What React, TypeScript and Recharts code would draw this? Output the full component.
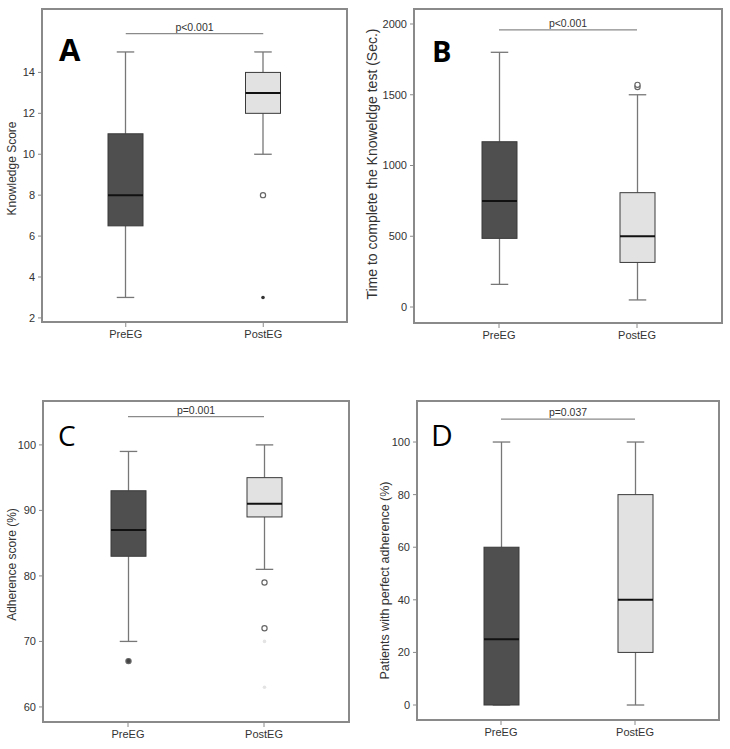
import React from 'react';
import {
  ComposedChart,
  Bar,
  XAxis,
  YAxis,
  ReferenceLine,
} from 'recharts';

const categories = ['PreEG', 'PostEG'];
const boxFills = ['#4f4f4f', '#e2e2e2'];
const outlierFills = ['#444444', '#ffffff'];

// A - Knowledge Score
const knowledgeMin = [3, 10];
const knowledgeQ1 = [6.5, 12];
const knowledgeMedian = [8, 13];
const knowledgeQ3 = [11, 14];
const knowledgeMax = [15, 15];
const knowledgeOutliers = [[], [8]];
const knowledgeExtremes = [[], [3]];
const knowledgeFaint = [[], []];
const knowledgeTicks = [2, 4, 6, 8, 10, 12, 14];

// B - time to complete the test (sec)
const timeMin = [160, 50];
const timeQ1 = [485, 315];
const timeMedian = [750, 500];
const timeQ3 = [1168, 808];
const timeMax = [1800, 1500];
const timeOutliers = [[], [1555, 1570]];
const timeExtremes = [[], []];
const timeFaint = [[], []];
const timeTicks = [0, 500, 1000, 1500, 2000];

// C - adherence score
const adherenceMin = [70, 81];
const adherenceQ1 = [83, 89];
const adherenceMedian = [87, 91];
const adherenceQ3 = [93, 95];
const adherenceMax = [99, 100];
const adherenceOutliers = [[67], [79, 72]];
const adherenceExtremes = [[], []];
const adherenceFaint = [[], [70, 63]];
const adherenceTicks = [60, 70, 80, 90, 100];

// D - patients with perfect adherence
const perfectMin = [0, 0];
const perfectQ1 = [0, 20];
const perfectMedian = [25, 40];
const perfectQ3 = [60, 80];
const perfectMax = [100, 100];
const perfectOutliers = [[], []];
const perfectExtremes = [[], []];
const perfectFaint = [[], []];
const perfectTicks = [0, 20, 40, 60, 80, 100];

const buildRows = (
  min: number[],
  q1: number[],
  median: number[],
  q3: number[],
  max: number[],
  outliers: number[][],
  extremes: number[][],
  faint: number[][]
) =>
  categories.map((name, i) => ({
    name,
    low: min[i],
    q1: q1[i],
    median: median[i],
    q3: q3[i],
    high: max[i],
    outliers: outliers[i],
    extremes: extremes[i],
    faint: faint[i],
    fill: boxFills[i],
    outlierFill: outlierFills[i],
  }));

const BoxShape = (props: any) => {
  const { x, y, width, height, payload } = props;
  const { low, q1, median, q3, high } = payload;
  // linear map using the bar's own pixel range (low..high)
  const py = (v: number) => y + (height * (high - v)) / (high - low);
  const cx = x + width / 2;
  const cap = width * 0.25;
  const whisker = '#777';
  return (
    <g>
      <line x1={cx} x2={cx} y1={py(high)} y2={py(q3)} stroke={whisker} strokeWidth={1.3} />
      <line x1={cx} x2={cx} y1={py(q1)} y2={py(low)} stroke={whisker} strokeWidth={1.3} />
      <line x1={cx - cap} x2={cx + cap} y1={py(high)} y2={py(high)} stroke={whisker} strokeWidth={1.3} />
      <line x1={cx - cap} x2={cx + cap} y1={py(low)} y2={py(low)} stroke={whisker} strokeWidth={1.3} />
      <rect
        x={x}
        y={py(q3)}
        width={width}
        height={Math.max(py(q1) - py(q3), 0.5)}
        fill={payload.fill}
        stroke="#3a3a3a"
        strokeWidth={1}
      />
      <line x1={x} x2={x + width} y1={py(median)} y2={py(median)} stroke="#111" strokeWidth={2} />
      {payload.outliers.map((v: number, i: number) => (
        <circle key={'o' + i} cx={cx} cy={py(v)} r={2.6} fill={payload.outlierFill} stroke="#666" strokeWidth={1.2} />
      ))}
      {payload.extremes.map((v: number, i: number) => (
        <circle key={'e' + i} cx={cx} cy={py(v)} r={1.8} fill="#333" />
      ))}
      {payload.faint.map((v: number, i: number) => (
        <circle key={'f' + i} cx={cx} cy={py(v)} r={1.8} fill="#e4e4e4" />
      ))}
    </g>
  );
};

const yLabelContent = (text: string, fontSize: number, shift: number) => (p: any) => {
  const vb = p.viewBox;
  const lx = vb.x + 5;
  const ly = vb.y + vb.height / 2 + shift;
  return (
    <text
      x={lx}
      y={ly}
      transform={`rotate(-90, ${lx}, ${ly})`}
      textAnchor="middle"
      dominantBaseline="central"
      fontSize={fontSize}
      fill="#333"
    >
      {text}
    </text>
  );
};

interface PanelProps {
  left: number;
  top: number;
  width: number;
  height: number;
  margin: { top: number; right: number; bottom: number; left: number };
  yWidth: number;
  xHeight: number;
  xPad: number;
  rows: any[];
  domain: [number, number];
  ticks: number[];
  yLabel: string;
  yLabelSize: number;
  yLabelShift: number;
  pText: string;
  pY: number;
  letter: string;
  letterX: number;
  letterY: number;
  letterSize: number;
  letterWeight: number;
}

const frame = '#8a8a8a';
const tickStyle = { fontSize: 11, fill: '#333' };

const Panel = (p: PanelProps) => {
  // plot frame drawn around the chart's plot area
  const fx = p.margin.left + p.yWidth;
  const fy = p.margin.top;
  const fw = p.width - p.margin.right - fx;
  const fh = p.height - p.margin.bottom - p.xHeight - fy;
  return (
    <div style={{ position: 'absolute', left: p.left, top: p.top, width: p.width, height: p.height }}>
      <ComposedChart width={p.width} height={p.height} data={p.rows} margin={p.margin}>
        <XAxis
          dataKey="name"
          height={p.xHeight}
          padding={{ left: p.xPad, right: p.xPad }}
          tick={tickStyle}
          tickSize={5}
          tickMargin={3}
          axisLine={false}
          tickLine={{ stroke: frame }}
        />
        <YAxis
          type="number"
          domain={p.domain}
          ticks={p.ticks}
          width={p.yWidth}
          allowDataOverflow
          tick={tickStyle}
          tickSize={4}
          tickMargin={3}
          axisLine={false}
          tickLine={{ stroke: frame }}
          label={{ content: yLabelContent(p.yLabel, p.yLabelSize, p.yLabelShift) }}
        />
        <ReferenceLine
          segment={[
            { x: categories[0], y: p.pY },
            { x: categories[1], y: p.pY },
          ]}
          stroke={frame}
          strokeWidth={1.3}
          ifOverflow="visible"
          label={{ value: p.pText, position: 'top', offset: 3, fontSize: 10.5, fill: '#333' }}
        />
        <Bar
          dataKey={(d: any) => [d.low, d.high]}
          barSize={35}
          shape={BoxShape}
          isAnimationActive={false}
        />
      </ComposedChart>
      <div
        style={{
          position: 'absolute',
          left: fx - 1,
          top: fy - 1,
          width: fw + 2,
          height: fh + 2,
          boxSizing: 'border-box',
          border: `2px solid ${frame}`,
          pointerEvents: 'none',
        }}
      />
      <div
        style={{
          position: 'absolute',
          left: p.letterX,
          top: p.letterY,
          fontSize: p.letterSize,
          fontWeight: p.letterWeight,
          lineHeight: 1,
          color: '#000',
          fontFamily: '"Open Sans", "Liberation Sans", sans-serif',
        }}
      >
        {p.letter}
      </div>
    </div>
  );
};

export default function App() {
  return (
    <div
      style={{
        position: 'absolute',
        left: 0,
        top: 0,
        width: 730,
        height: 749,
        background: '#fff',
        fontFamily: '"Liberation Sans", Arial, sans-serif',
      }}
    >
      <Panel
        left={0}
        top={0}
        width={365}
        height={370}
        margin={{ top: 9, right: 18, bottom: 18, left: 7 }}
        yWidth={35}
        xHeight={30}
        xPad={15}
        rows={buildRows(knowledgeMin, knowledgeQ1, knowledgeMedian, knowledgeQ3, knowledgeMax, knowledgeOutliers, knowledgeExtremes, knowledgeFaint)}
        domain={[1.8, 17.1]}
        ticks={knowledgeTicks}
        yLabel="Knowledge Score"
        yLabelSize={12}
        yLabelShift={3}
        pText="p<0.001"
        pY={15.9}
        letter="A"
        letterX={59}
        letterY={34}
        letterSize={31}
        letterWeight={700}
      />
      <Panel
        left={365}
        top={0}
        width={365}
        height={370}
        margin={{ top: 9, right: 8, bottom: 17, left: 2 }}
        yWidth={47}
        xHeight={30}
        xPad={16}
        rows={buildRows(timeMin, timeQ1, timeMedian, timeQ3, timeMax, timeOutliers, timeExtremes, timeFaint)}
        domain={[-113, 2106]}
        ticks={timeTicks}
        yLabel="Time to complete the Knoweldge test (Sec.)"
        yLabelSize={14}
        yLabelShift={-2}
        pText="p<0.001"
        pY={1958}
        letter="B"
        letterX={67}
        letterY={36}
        letterSize={29}
        letterWeight={700}
      />
      <Panel
        left={0}
        top={380}
        width={365}
        height={369}
        margin={{ top: 21, right: 16, bottom: 2, left: 7 }}
        yWidth={36}
        xHeight={25}
        xPad={17}
        rows={buildRows(adherenceMin, adherenceQ1, adherenceMedian, adherenceQ3, adherenceMax, adherenceOutliers, adherenceExtremes, adherenceFaint)}
        domain={[57.7, 106.7]}
        ticks={adherenceTicks}
        yLabel="Adherence score (%)"
        yLabelSize={12}
        yLabelShift={3}
        pText="p=0.001"
        pY={104.3}
        letter="C"
        letterX={58}
        letterY={41}
        letterSize={28}
        letterWeight={400}
      />
      <Panel
        left={365}
        top={380}
        width={365}
        height={369}
        margin={{ top: 21, right: 11, bottom: 4, left: 15 }}
        yWidth={37}
        xHeight={25}
        xPad={17}
        rows={buildRows(perfectMin, perfectQ1, perfectMedian, perfectQ3, perfectMax, perfectOutliers, perfectExtremes, perfectFaint)}
        domain={[-5.7, 115.6]}
        ticks={perfectTicks}
        yLabel="Patients with perfect adherence (%)"
        yLabelSize={12.5}
        yLabelShift={20}
        pText="p=0.037"
        pY={108.7}
        letter="D"
        letterX={66}
        letterY={40}
        letterSize={30}
        letterWeight={400}
      />
    </div>
  );
}
